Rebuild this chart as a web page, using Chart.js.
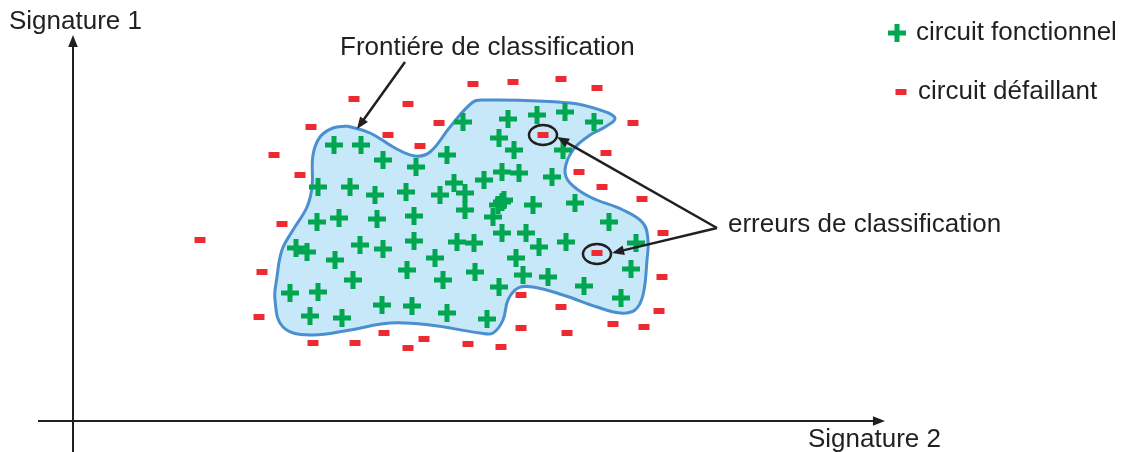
<!DOCTYPE html>
<html lang="fr">
<head>
<meta charset="utf-8">
<title>Frontière de classification</title>
<script src="https://cdn.jsdelivr.net/npm/chart.js@4.4.1/dist/chart.umd.min.js"></script>
<style>
  html, body { margin: 0; padding: 0; background: #fff; }
  #wrap { width: 1121px; height: 452px; position: relative; }
</style>
</head>
<body>
<div id="wrap"><canvas id="chart"></canvas></div>
<script>
// circuits fonctionnels (signature 2, signature 1)
const okX = [261,288,310,343,374,245,277,302,333,367,244,266,304,341,223,234,262,287,310,341,362,334,280,217,245,309,339,237,269,370,374,
             390,435,464,492,521,426,441,490,429,446,411,381,479,392,429,460,502,392,420,425,431,536,429,453,384,401,466,493,563,443,402,450,475,558,426,511,548,414];
const okY = [276,276,261,254,266,234,234,226,229,226,199,203,202,205,173,169,161,176,172,180,163,151,141,128,129,116,115,105,103,141,108,
             299,302,306,309,299,283,271,271,249,248,241,238,244,228,219,216,218,211,204,216,221,199,188,188,179,178,174,179,178,163,149,146,144,152,134,135,123,102];
// circuits défaillants
const badX = [281,335,238,366,315,347,201,227,400,440,488,524,560,470,533,506,529,569,209,189,186,240,282,311,351,335,590,524,589,448,488,586,540,571,448,494,395,428,127];
const badY = [322,317,294,298,286,275,266,246,337,339,342,333,298,286,268,249,234,222,197,149,104,78,78,88,82,73,188,168,144,126,114,110,97,94,93,88,77,74,181];
// frontière de classification
const edgeX = [274,297,322,342,357,377,400,412,497,527,542,532,517,500,492,497,517,550,570,575,574,570,562,547,524,490,460,445,435,430,420,407,357,317,277,237,210,202,204,209,220,234,239,240,247,260,274];
const edgeY = [295,288,273,265,269,294,319,321,318,311,303,294,286,271,251,238,224,211,198,181,161,126,111,108,114,126,134,133,121,101,88,88,96,98,91,86,94,121,144,171,191,214,234,266,284,293,295];
// erreurs entourées
const errX = [470, 524];
const errY = [286, 167];

const pts = (xs, ys) => xs.map((x, i) => ({ x: x, y: ys[i] }));

const FONT = '26px "Liberation Sans", Arial, sans-serif';
const INK = '#231f20';
const GREEN = '#00a650';
const RED = '#ed2a32';

function arrow(ctx, x1, y1, x2, y2, size) {
  const a = Math.atan2(y2 - y1, x2 - x1);
  ctx.beginPath();
  ctx.moveTo(x1, y1);
  ctx.lineTo(x2 - Math.cos(a) * size * 0.8, y2 - Math.sin(a) * size * 0.8);
  ctx.stroke();
  ctx.beginPath();
  ctx.moveTo(x2, y2);
  ctx.lineTo(x2 - size * Math.cos(a - 0.38), y2 - size * Math.sin(a - 0.38));
  ctx.lineTo(x2 - size * Math.cos(a + 0.38), y2 - size * Math.sin(a + 0.38));
  ctx.closePath();
  ctx.fill();
}

const decor = {
  id: 'decor',
  afterDatasetsDraw(chart) {
    const ctx = chart.ctx;
    const sx = chart.scales.x, sy = chart.scales.y;
    const px = v => sx.getPixelForValue(v), py = v => sy.getPixelForValue(v);
    ctx.save();
    ctx.strokeStyle = INK;
    ctx.fillStyle = INK;
    ctx.lineWidth = 2;
    // axes
    arrow(ctx, px(0), py(-31), px(0), py(386), 13);
    arrow(ctx, px(-35), py(0), px(812), py(0), 13);
    // ellipses autour des erreurs
    ctx.lineWidth = 2.5;
    errX.forEach((x, i) => {
      ctx.beginPath();
      ctx.ellipse(px(x), py(errY[i]), 14, 10, 0, 0, Math.PI * 2);
      ctx.stroke();
    });
    // flèches des annotations
    arrow(ctx, px(332), py(359), px(284), py(292), 13);
    arrow(ctx, px(644), py(193), px(484), py(284), 13);
    arrow(ctx, px(644), py(193), px(539), py(168), 13);
    // textes
    ctx.font = FONT;
    ctx.textBaseline = 'middle';
    ctx.textAlign = 'left';
    ctx.fillText('Signature 1', px(-64), py(399));
    ctx.fillText('Signature 2', px(735), py(-19));
    ctx.fillText('Frontiére de classification', px(267), py(373));
    ctx.fillText('erreurs de classification', px(655), py(196));
    // légende
    ctx.fillText('circuit fonctionnel', px(843), py(388));
    ctx.fillText('circuit défaillant', px(845), py(329));
    ctx.fillStyle = GREEN;
    ctx.fillRect(px(824) - 9, py(388) - 2.5, 18, 5);
    ctx.fillRect(px(824) - 2.5, py(388) - 9, 5, 18);
    ctx.fillStyle = RED;
    ctx.fillRect(px(828) - 5.5, py(329) - 3, 11, 6);
    ctx.restore();
  }
};

new Chart(document.getElementById('chart'), {
  type: 'scatter',
  data: {
    datasets: [
      {
        label: 'circuit fonctionnel',
        data: pts(okX, okY),
        pointStyle: 'cross',
        pointRadius: 9,
        pointBorderWidth: 5,
        pointBorderColor: GREEN,
        pointBackgroundColor: GREEN,
        order: 1
      },
      {
        label: 'circuit défaillant',
        data: pts(badX, badY),
        pointStyle: 'line',
        pointRadius: 5.5,
        pointBorderWidth: 6,
        pointBorderColor: RED,
        pointBackgroundColor: RED,
        order: 1
      },
      {
        label: 'frontière',
        data: pts(edgeX, edgeY),
        showLine: true,
        tension: 0.4,
        borderColor: '#4a8fcf',
        borderWidth: 3,
        backgroundColor: '#c6e8f8',
        fill: 'shape',
        pointRadius: 0,
        order: 3
      }
    ]
  },
  options: {
    responsive: true,
    maintainAspectRatio: false,
    animation: false,
    layout: { padding: 0, autoPadding: false },
    plugins: { legend: { display: false }, tooltip: { enabled: false } },
    scales: {
      x: { type: 'linear', min: -73, max: 1048, display: false },
      y: { type: 'linear', min: -31, max: 421, display: false }
    }
  },
  plugins: [decor]
});
</script>
</body>
</html>
